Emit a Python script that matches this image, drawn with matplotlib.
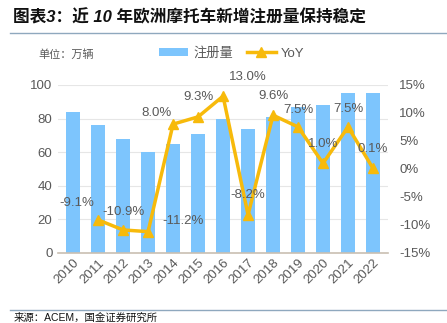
import matplotlib
matplotlib.use('Agg')
import matplotlib.pyplot as plt
import numpy as np

plt.rcParams['font.family'] = ['Liberation Sans', 'Noto Sans CJK SC', 'DejaVu Sans']

years = ['2010', '2011', '2012', '2013', '2014', '2015', '2016',
         '2017', '2018', '2019', '2020', '2021', '2022']
reg = [84, 76, 68, 60, 65, 71, 80, 74, 81, 87, 88, 95, 95]
yoy_years = years[1:]
yoy = [-9.1, -10.9, -11.2, 8.0, 9.3, 13.0, -8.2, 9.6, 7.5, 1.0, 7.5, 0.1]
# label offsets in points (dx, dy)
offs = [(-15, 12), (0, 13), (25, 8), (-12, 8), (0, 14), (18, 14),
        (0, 14), (0, 14), (0, 12), (0, 14), (0, 13), (0, 14)]

blue = '#7DC5FD'
gold = '#F7BA0B'
grey = '#595959'

fig = plt.figure(figsize=(4.47, 3.23), dpi=100)
ax = fig.add_axes([0.130, 0.217, 0.738, 0.520])
ax2 = ax.twinx()

x = np.arange(len(years))
ax.bar(x, reg, width=0.55, color=blue, zorder=2, label='注册量')
ax.set_ylim(0, 100)
ax.set_yticks(range(0, 101, 20))
ax.set_xlim(-0.6, len(years) - 0.4)
ax.set_xticks(x)
ax.set_xticklabels(years, rotation=45, ha='right', rotation_mode='anchor')
ax.grid(axis='y', color='#E6E6E6', lw=0.8, zorder=0)
for s in ['top', 'right', 'left']:
    ax.spines[s].set_visible(False)
ax.spines['bottom'].set_color('#C9BFB2')
ax.spines['bottom'].set_linewidth(1.2)
ax.tick_params(length=0, labelsize=9.5, colors=grey, pad=4)
ax.tick_params(axis='x', pad=3)

xi = np.arange(1, len(years))
ax2.plot(xi, yoy, color=gold, lw=2.5, marker='^', ms=7, label='YoY', zorder=3)
for xv, v, (dx, dy) in zip(xi, yoy, offs):
    ax2.annotate(f'{v:.1f}%', (xv, v), xytext=(dx, dy), textcoords='offset points',
                 ha='center', va='center', fontsize=9.5, color=grey)
ax2.set_ylim(-15, 15)
ax2.set_yticks(range(-15, 16, 5))
ax2.set_yticklabels([f'{t}%' for t in range(-15, 16, 5)])
for s in ['top', 'right', 'left', 'bottom']:
    ax2.spines[s].set_visible(False)
ax2.tick_params(length=0, labelsize=9.5, colors=grey, pad=8)

# title and decorations
fig.text(0.03, 0.947, '图表3：近 10 年欧洲摩托车新增注册量保持稳定', fontsize=12,
         fontweight='bold', style='italic', va='center', color='#111111')
fig.add_artist(plt.Line2D([0.022, 1.0], [0.897, 0.897], color='#8FA8BE', lw=1.0))
fig.add_artist(plt.Line2D([0.022, 1.0], [0.040, 0.040], color='#8FA8BE', lw=1.0))
fig.text(0.03, 0.002, '来源：ACEM，国金证券研究所', fontsize=7.5, va='bottom', color='#111111')
fig.text(0.085, 0.830, '单位：万辆', fontsize=8, color=grey, va='center')

h1, l1 = ax.get_legend_handles_labels()
h2, l2 = ax2.get_legend_handles_labels()
fig.legend(h1 + h2, l1 + l2, loc='center left', bbox_to_anchor=(0.33, 0.835),
           ncol=2, frameon=False, fontsize=9.5, labelcolor=grey,
           handlelength=2.2, handleheight=0.6, columnspacing=1.0, handletextpad=0.4)

fig.savefig('out.png', dpi=100)
